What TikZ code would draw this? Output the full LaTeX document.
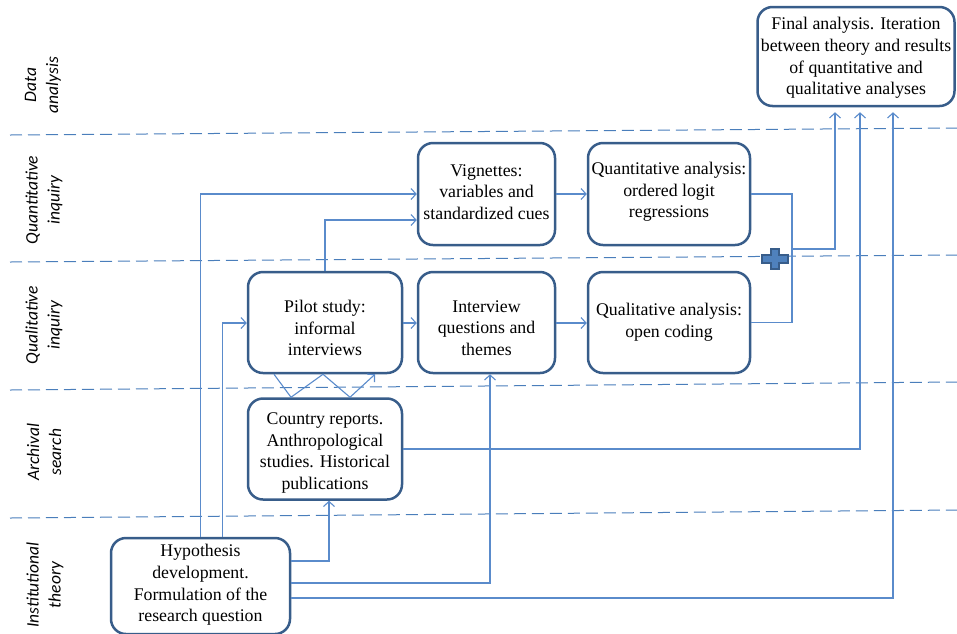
\documentclass[tikz,border=0pt]{standalone}
\usepackage{fontspec}
\setmainfont{Liberation Serif}
\newfontfamily\boxfont{Liberation Serif}
\newfontfamily\lblfont{Carlito}
\usetikzlibrary{arrows.meta}
\definecolor{boxblue}{HTML}{385D8A}
\definecolor{linkblue}{HTML}{5A8BCB}
\definecolor{dashblue}{HTML}{4A7EBB}
\definecolor{plusblue}{HTML}{4F81BD}
\begin{document}
\begin{tikzpicture}[x=1pt,y=-1pt,
 box/.style={draw=boxblue, fill=white, line width=2.5pt, rounded corners=15pt, inner sep=0pt},
 boxtext/.style={align=center, font=\boxfont\fontsize{17.8}{21.6}\selectfont, inner sep=0pt},
 link/.style={draw=linkblue, line width=1.1pt},
 arr/.style={link, -{Straight Barb[length=5pt,width=11pt]}},
 lane/.style={draw=dashblue, line width=1pt, dash pattern=on 12pt off 6pt},
 lbl/.style={rotate=90, align=center, font=\lblfont\itshape\fontsize{17.5}{22}\selectfont}]
\useasboundingbox (0,0) rectangle (957,633);

% lanes
\draw[lane] (10,135) -- (957,128);
\draw[lane] (10,262) -- (957,255);
\draw[lane] (10,390) -- (957,382);
\draw[lane] (10,518) -- (957,510);

% lane labels
\node[lbl] (l1) at (43,85) {Data\\analysis};
\node[lbl] (l2) at (44,200) {Quantitative\\inquiry};
\node[lbl] (l3) at (44,325) {Qualitative\\inquiry};
\node[lbl] (l4) at (44,452) {Archival\\search};
\node[lbl] (l5) at (45,585) {Institutional\\theory};

% boxes
\node[box, minimum width=197pt, minimum height=99pt] (final) at (856,56.5) {};
\node[boxtext] (final-t) at (856,58)
  {Final analysis. Iteration\\between theory and results\\of quantitative and\\qualitative analyses};
\node[box, minimum width=137pt, minimum height=102pt] (vig) at (486.5,194) {};
\node[boxtext] (vig-t) at (486.5,192) {Vignettes:\\variables and\\standardized cues};
\node[box, minimum width=162pt, minimum height=102pt] (quant) at (669,194) {};
\node[boxtext] (quant-t) at (669,192) {Quantitative analysis:\\ordered logit\\regressions};
\node[box, minimum width=154pt, minimum height=101pt] (pilot) at (325,322.5) {};
\node[boxtext] (pilot-t) at (325,328) {Pilot study:\\informal\\interviews};
\node[box, minimum width=137pt, minimum height=101pt] (inter) at (486.5,322.5) {};
\node[boxtext] (inter-t) at (486.5,328) {Interview\\questions and\\themes};
\node[box, minimum width=162pt, minimum height=101pt] (qual) at (669,322.5) {};
\node[boxtext] (qual-t) at (669,322) {Qualitative analysis:\\open coding};
\node[box, minimum width=154pt, minimum height=101pt] (country) at (325,449) {};
\node[boxtext] (country-t) at (325,453)
  {Country reports.\\Anthropological\\studies. Historical\\publications};
\node[box, minimum width=179pt, minimum height=96pt] (hyp) at (200.5,586) {};
\node[boxtext] (hyp-t) at (200.5,585)
  {Hypothesis\\development.\\Formulation of the\\research question};

% connectors
\draw[arr] (hyp.north) |- (vig.west);
\draw[arr] ([xshift=22pt]hyp.north) |- ([yshift=-0.5pt]pilot.west);
\draw[arr] (pilot.north) |- ([yshift=-26pt]vig.west);
\draw[arr] ([yshift=-0.5pt]pilot.east) -- ([yshift=-0.5pt]inter.west);
\draw[arr] ([yshift=-0.5pt]inter.east) -- ([yshift=-0.5pt]qual.west);
\draw[arr] (vig.east) -- (quant.west);
\coordinate (j) at (792,249);
\draw[link] (quant.east) -| (j) |- (qual.east);
\draw[arr, shorten >=5pt] (j) -| ([xshift=-21pt]final.south);
\draw[arr, shorten >=5pt] (country.east) -| ([xshift=4pt]final.south);
\draw[arr, shorten >=5pt] ([yshift=-12pt]hyp.east) -| ([xshift=37pt]final.south);
\draw[arr] ([yshift=25pt]hyp.east) -| ([xshift=4pt]country.south);
\draw[arr] ([yshift=3pt]hyp.east) -| ([xshift=3.5pt]inter.south);
\draw[arr] ([xshift=-51pt]pilot.south) -- ([xshift=-34pt]country.north)
  -- ([xshift=-2pt]pilot.south) -- ([xshift=25pt]country.north) -- ([xshift=50pt]pilot.south);

% plus sign
\filldraw[fill=plusblue, draw=boxblue, line width=1.2pt]
  (771,249) -- (779,249) -- (779,255) -- (788,255) -- (788,263) -- (779,263) -- (779,269)
  -- (771,269) -- (771,263) -- (762,263) -- (762,255) -- (771,255) -- cycle;
\end{tikzpicture}
\end{document}
